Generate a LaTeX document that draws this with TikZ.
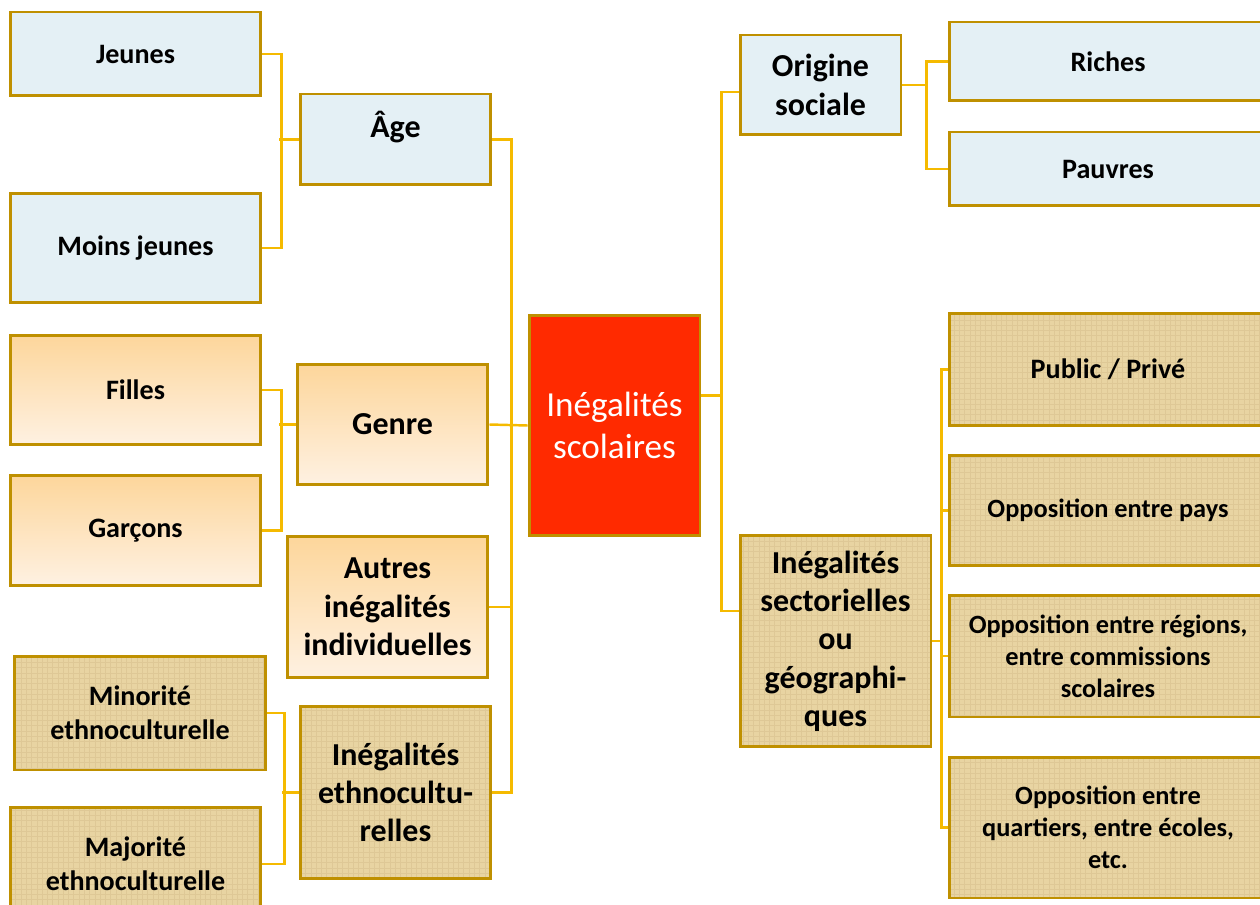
\documentclass[tikz,border=0pt]{standalone}
\usepackage{fontspec}
\setmainfont{Carlito}
\usetikzlibrary{calc,patterns}

\definecolor{boxline}{RGB}{191,144,0}
\definecolor{linkcol}{RGB}{245,186,0}
\definecolor{paleblue}{RGB}{228,240,245}
\definecolor{papyrus}{RGB}{232,212,162}
\definecolor{papyrusgrain}{RGB}{222,200,150}
\definecolor{orangetop}{RGB}{253,214,155}
\definecolor{orangebot}{RGB}{254,241,226}
\definecolor{scolred}{RGB}{255,42,0}

\newcommand{\leaffont}{\bfseries\fontsize{16}{19.4}\selectfont}
\newcommand{\midfont}{\bfseries\fontsize{18.2}{21.8}\selectfont}
\newcommand{\smallleaffont}{\bfseries\fontsize{15}{18.3}\selectfont}

\tikzset{
  box/.style={draw=boxline, line width=1.7pt, align=center, inner sep=0pt},
  bluebox/.style={box, fill=paleblue},
  orangebox/.style={box, top color=orangetop, bottom color=orangebot},
  papyrusbox/.style={box, preaction={fill=papyrus}, pattern=grid, pattern color=papyrusgrain},
  redbox/.style={box, fill=scolred, text=white, font=\fontsize{20}{24}\selectfont},
  link/.style={draw=linkcol, line width=1.4pt}
}

\begin{document}
\begin{tikzpicture}[x=0.02cm, y=-0.02cm]
\useasboundingbox (0,0) rectangle (1260,905);

% centre
\node[redbox, minimum width=3.42cm, minimum height=4.42cm] (scol) at (614.5,425.5) {Inégalités\\scolaires};

% left side, second level
\node[bluebox, font=\midfont, minimum width=3.82cm, minimum height=1.82cm] (age) at (395.5,139.5) {Âge\\[-0.25em]\mbox{}};
\node[orangebox, font=\midfont, minimum width=3.82cm, minimum height=2.42cm] (genre) at (392.5,424.5) {Genre};
\node[orangebox, font=\midfont, minimum width=4.02cm, minimum height=2.84cm] (autres) at (387.5,607) {Autres\\inégalités\\individuelles};
\node[papyrusbox, font=\midfont, minimum width=3.82cm, minimum height=3.46cm] (ethno) at (395.5,792.5) {Inégalités\\ethnocultu-\\relles};

% left side, leaves
\node[bluebox, font=\leaffont, minimum width=5.02cm, minimum height=1.68cm] (jeunes) at (135.5,54) {Jeunes};
\node[bluebox, font=\leaffont, minimum width=5.02cm, minimum height=2.2cm] (moins) at (135.5,248) {Moins jeunes};
\node[orangebox, font=\leaffont, minimum width=5.02cm, minimum height=2.2cm] (filles) at (135.5,390) {Filles};
\node[orangebox, font=\leaffont, minimum width=5.02cm, minimum height=2.22cm] (garcons) at (135.5,530.5) {Garçons};
\node[papyrusbox, font=\leaffont, minimum width=5.04cm, minimum height=2.28cm] (minorite) at (140,713) {Minorité\\ethnoculturelle};
\node[papyrusbox, font=\leaffont, minimum width=5.02cm, minimum height=2.28cm] (majorite) at (135.5,864) {Majorité\\ethnoculturelle};

% right side, second level
\node[bluebox, font=\midfont, minimum width=3.22cm, minimum height=2cm] (origine) at (820.5,85) {Origine\\sociale};
\node[papyrusbox, font=\midfont, minimum width=3.82cm, minimum height=4.24cm] (sect) at (835.5,641) {Inégalités\\sectorielles\\ou\\géographi-\\ques};

% right side, leaves
\node[bluebox, font=\leaffont, minimum width=6.36cm, minimum height=1.58cm] (riches) at (1108,61.5) {Riches};
\node[bluebox, font=\leaffont, minimum width=6.36cm, minimum height=1.48cm] (pauvres) at (1108,169) {Pauvres};
\node[papyrusbox, font=\leaffont, minimum width=6.36cm, minimum height=2.26cm] (public) at (1108,369.5) {Public / Privé};
\node[papyrusbox, font=\smallleaffont, minimum width=6.36cm, minimum height=2.22cm] (pays) at (1108,510.5) {Opposition entre pays};
\node[papyrusbox, font=\smallleaffont, minimum width=6.36cm, minimum height=2.44cm] (regions) at (1108,656) {Opposition entre régions,\\entre commissions\\scolaires};
\node[papyrusbox, font=\smallleaffont, minimum width=6.36cm, minimum height=2.82cm] (quartiers) at (1108,827.5) {Opposition entre\\quartiers, entre écoles,\\etc.};

% connectors, left
\draw[link] (jeunes.east) -- ++(19,0) |- (moins.east);
\draw[link] (age.west) -- ++(-20,0);
\draw[link] (filles.east) -- ++(19,0) |- (garcons.east);
\draw[link] (genre.west) -- ++(-17,0);
\draw[link] (minorite.east) -- ++(17,0) |- (majorite.east);
\draw[link] (ethno.west) -- ++(-17,0);
\draw[link] (age.east) -- ++(19,0) |- (ethno.east);
\draw[link] (genre.east) -- (scol.west);
\draw[link] (autres.east) -- ++(22,0);

% connectors, right
\draw[link] ($(scol.east)+(0,-30)$) -- ++(20,0) |- ($(origine.west)+(0,7)$);
\draw[link] ($(scol.east)+(0,-30)$) -- ++(20,0) |- ($(sect.west)+(0,-30)$);
\draw[link] (origine.east) -- ++(24,0) |- (riches.west);
\draw[link] (origine.east) -- ++(24,0) |- (pauvres.west);
\draw[link] (sect.east) -- ++(9,0) |- (public.west);
\draw[link] (sect.east) -- ++(9,0) |- (pays.west);
\draw[link] (sect.east) -- ++(9,0) |- (regions.west);
\draw[link] (sect.east) -- ++(9,0) |- (quartiers.west);
\end{tikzpicture}
\end{document}
